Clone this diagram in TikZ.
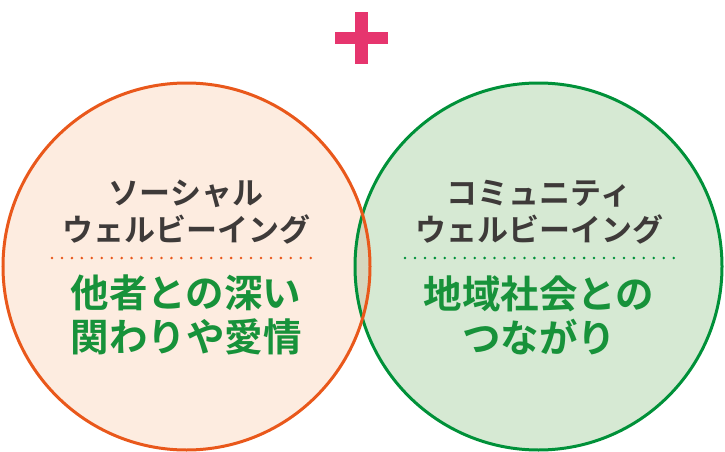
\documentclass[tikz,border=0pt]{standalone}
\usepackage{fontspec}
\newfontfamily\jpfont{Noto Sans CJK JP Bold}
\definecolor{orangeline}{HTML}{E9581B}
\definecolor{orangefill}{HTML}{FDECE0}
\definecolor{greenline}{HTML}{009139}
\definecolor{greenfill}{HTML}{D6E9D3}
\definecolor{pinkplus}{HTML}{E6356E}
\definecolor{graytext}{HTML}{3E3A39}
\definecolor{greentext}{HTML}{17923A}
\begin{document}
\begin{tikzpicture}[x=1pt,y=-1pt,
  ring/.style={line width=3pt},
  headtext/.style={font=\jpfont\fontsize{31}{37}\selectfont, text=graytext, align=center, inner sep=0pt},
  keytext/.style={font=\jpfont\fontsize{38.5}{44}\selectfont, text=greentext, align=center, inner sep=0pt},
  dotline/.style={line width=2.8pt, line cap=round, dash pattern=on 0pt off 9.95pt}]
\useasboundingbox (0,0) rectangle (725,452);
% circles
\fill[orangefill] (186.5,266.5) circle (183.5);
\fill[greenfill] (538.5,266.5) circle (183.5);
\begin{scope}
  \clip (186.5,266.5) circle (183.5);
  \fill[color={rgb,255:red,214;green,214;blue,190}] (538.5,266.5) circle (183.5);
\end{scope}
\draw[ring, greenline] (538.5,266.5) circle (183.5);
\draw[ring, orangeline] (186.5,266.5) circle (183.5);
% plus
\fill[pinkplus] (334.5,32) rectangle (388,44.5);
\fill[pinkplus] (355,12.5) rectangle (367.5,64.5);
% left texts
\node[headtext] (lh) at (186,212.5) {ソーシャル\\ウェルビーイング};
\coordinate (ld1) at (52,258);
\coordinate (ld2) at (320,258);
\draw[dotline, orangeline] (ld1) -- (ld2);
\node[keytext] (lk) at (186,315) {他者との深い\\関わりや愛情};
% right texts
\node[headtext] (rh) at (539,212.5) {コミュニティ\\ウェルビーイング};
\coordinate (rd1) at (405,258);
\coordinate (rd2) at (674,258);
\draw[dotline, greenline] (rd1) -- (rd2);
\node[keytext] (rk) at (539,315) {地域社会との\\つながり};
\end{tikzpicture}
\end{document}
